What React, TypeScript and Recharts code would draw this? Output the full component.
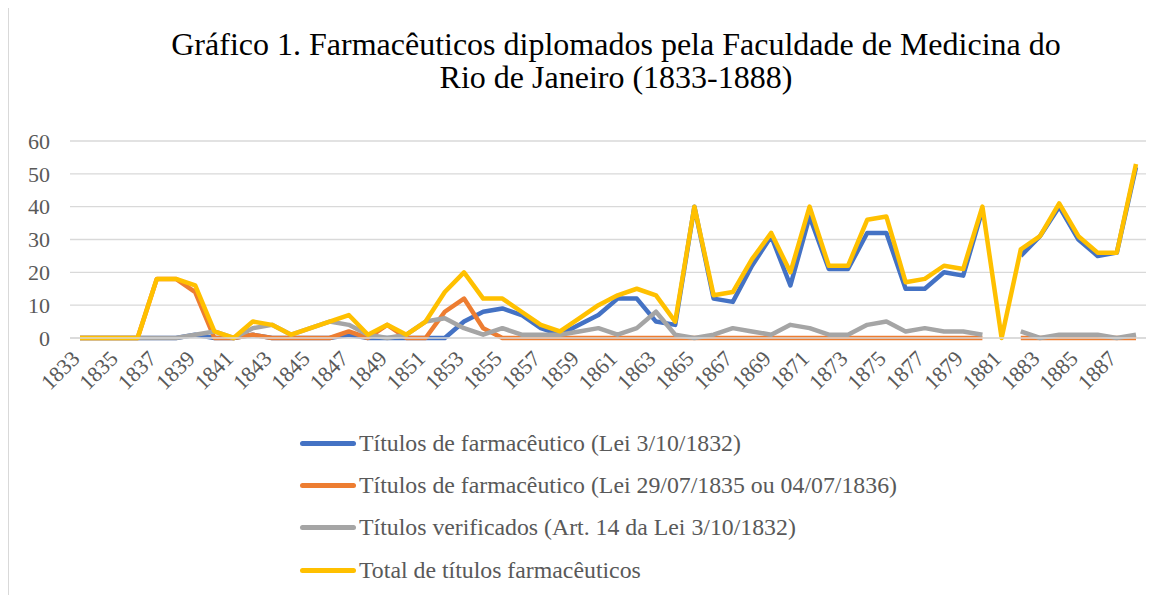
import React from 'react';
import { LineChart, Line, XAxis, YAxis, CartesianGrid, Legend } from 'recharts';

const years = [
  '1833', '1834', '1835', '1836', '1837', '1838', '1839', '1840', '1841', '1842',
  '1843', '1844', '1845', '1846', '1847', '1848', '1849', '1850', '1851', '1852',
  '1853', '1854', '1855', '1856', '1857', '1858', '1859', '1860', '1861', '1862',
  '1863', '1864', '1865', '1866', '1867', '1868', '1869', '1870', '1871', '1872',
  '1873', '1874', '1875', '1876', '1877', '1878', '1879', '1880', '1881', '1882',
  '1883', '1884', '1885', '1886', '1887', '1888',
];

// Títulos de farmacêutico (Lei 3/10/1832)
const lei1832 = [
  0, 0, 0, 0, 0, 0, 1, 0, 0, 1,
  0, 0, 0, 0, 1, 0, 0, 0, 0, 0,
  5, 8, 9, 7, 3, 1, 4, 7, 12, 12,
  5, 4, 40, 12, 11, 22, 31, 16, 37, 21,
  21, 32, 32, 15, 15, 20, 19, 39, null, 25,
  31, 40, 30, 25, 26, 52,
];

// Títulos de farmacêutico (Lei 29/07/1835 ou 04/07/1836)
const lei1835 = [
  0, 0, 0, 0, 18, 18, 14, 0, 0, 1,
  0, 0, 0, 0, 2, 0, 4, 0, 0, 8,
  12, 3, 0, 0, 0, 0, 0, 0, 0, 0,
  0, 0, 0, 0, 0, 0, 0, 0, 0, 0,
  0, 0, 0, 0, 0, 0, 0, 0, null, 0,
  0, 0, 0, 0, 0, 0,
];

// Títulos verificados (Art. 14 da Lei 3/10/1832)
const verificados = [
  0, 0, 0, 0, 0, 0, 1, 2, 0, 3,
  4, 1, 3, 5, 4, 1, 0, 1, 5, 6,
  3, 1, 3, 1, 1, 1, 2, 3, 1, 3,
  8, 1, 0, 1, 3, 2, 1, 4, 3, 1,
  1, 4, 5, 2, 3, 2, 2, 1, null, 2,
  0, 1, 1, 1, 0, 1,
];

// Total de títulos farmacêuticos
const total = [
  0, 0, 0, 0, 18, 18, 16, 2, 0, 5,
  4, 1, 3, 5, 7, 1, 4, 1, 5, 14,
  20, 12, 12, 8, 4, 2, 6, 10, 13, 15,
  13, 5, 40, 13, 14, 24, 32, 20, 40, 22,
  22, 36, 37, 17, 18, 22, 21, 40, 0, 27,
  31, 41, 31, 26, 26, 53,
];

const yTicks = [0, 10, 20, 30, 40, 50, 60];

const series = [
  { key: 'lei1832', name: 'Títulos de farmacêutico (Lei 3/10/1832)', color: '#4472C4' },
  { key: 'lei1835', name: 'Títulos de farmacêutico (Lei 29/07/1835 ou 04/07/1836)', color: '#ED7D31' },
  { key: 'verificados', name: 'Títulos verificados (Art. 14 da Lei 3/10/1832)', color: '#A5A5A5' },
  { key: 'total', name: 'Total de títulos farmacêuticos', color: '#FFC000' },
];

const data = years.map((year, i) => ({
  year,
  lei1832: lei1832[i],
  lei1835: lei1835[i],
  verificados: verificados[i],
  total: total[i],
}));

const FONT = 'Liberation Serif';

const XTick = (props: any) => {
  const { x, y, payload } = props;
  const ax = x + 1;
  const ay = y + 22;
  return (
    <text
      x={ax}
      y={ay}
      textAnchor="end"
      transform={`rotate(-45 ${ax} ${ay})`}
      fill="#595959"
      style={{ fontFamily: FONT, fontSize: 22 }}
    >
      {payload.value}
    </text>
  );
};

const LegendBox = () => (
  <div style={{ fontFamily: FONT, fontSize: 23.8, color: '#595959' }}>
    {series.map(s => (
      <div key={s.key} style={{ display: 'flex', alignItems: 'center', height: 42.3, whiteSpace: 'nowrap' }}>
        <span style={{ display: 'inline-block', width: 56, height: 5, borderRadius: 3, background: s.color, marginRight: 3 }} />
        <span style={{ fontFamily: FONT }}>{s.name}</span>
      </div>
    ))}
  </div>
);

export default function App() {
  return (
    <div style={{ position: 'relative', width: 1162, height: 587, borderLeft: '1px solid #d9d9d9', borderRight: '1px solid #d9d9d9', background: '#fff', fontFamily: FONT }}>
      <div
        style={{
          position: 'absolute', left: 57, width: 1100, top: 20, textAlign: 'center',
          fontFamily: FONT, fontSize: 32, lineHeight: '33px', color: '#000',
        }}
      >
        Gráfico 1. Farmacêuticos diplomados pela Faculdade de Medicina do<br />
        Rio de Janeiro (1833-1888)
      </div>
      <LineChart width={1162} height={587} data={data} margin={{ top: 133, right: 25, left: 21, bottom: 217 }}>
        <CartesianGrid vertical={false} stroke="#d9d9d9" strokeWidth={1.3} />
        <XAxis
          dataKey="year"
          interval={1}
          tick={<XTick />}
          tickLine={false}
          tickSize={0}
          tickMargin={0}
          axisLine={{ stroke: '#d9d9d9', strokeWidth: 1.3 }}
          padding={{ left: 10, right: 10 }}
          height={40}
        />
        <YAxis
          domain={[0, 60]}
          ticks={yTicks}
          width={40}
          axisLine={false}
          tickLine={false}
          tickSize={0}
          tickMargin={20}
          tick={{ fill: '#595959', fontSize: 22, style: { fontFamily: FONT } }}
        />
        {series.map(s => (
          <Line
            key={s.key}
            type="linear"
            dataKey={s.key}
            name={s.name}
            stroke={s.color}
            strokeWidth={4.5}
            strokeLinejoin="round"
            dot={false}
            activeDot={false}
            isAnimationActive={false}
          />
        ))}
        <Legend
          layout="vertical"
          align="center"
          verticalAlign="middle"
          content={<LegendBox />}
          wrapperStyle={{ position: 'absolute', left: 291, top: 414, width: 800, height: 170 }}
        />
      </LineChart>
    </div>
  );
}
